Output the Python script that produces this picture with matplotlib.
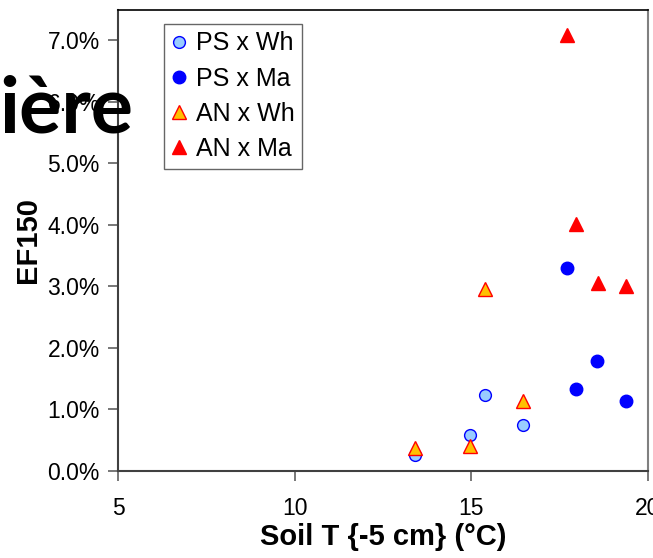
import matplotlib
matplotlib.use("Agg")
import matplotlib.pyplot as plt
from matplotlib.ticker import FuncFormatter

plt.rcParams['font.family'] = ['Liberation Sans', 'DejaVu Sans']

# ---------------------------------------------------------------------------
# Data
# ---------------------------------------------------------------------------
ps_wh_t = [13.4, 14.95, 15.4, 16.45]
ps_wh_ef = [0.0026, 0.0058, 0.0123, 0.0074]

ps_ma_t = [17.7, 17.95, 18.57, 19.38]
ps_ma_ef = [0.0330, 0.0134, 0.0179, 0.0113]

an_wh_t = [13.4, 14.95, 15.4, 16.45]
an_wh_ef = [0.0038, 0.0041, 0.0295, 0.0113]

an_ma_t = [17.7, 17.95, 18.58, 19.38]
an_ma_ef = [0.0708, 0.0401, 0.0306, 0.0301]

x_ticks = [5, 10, 15, 20]
y_ticks = [0.0, 0.01, 0.02, 0.03, 0.04, 0.05, 0.06, 0.07]

# ---------------------------------------------------------------------------
# Plot
# ---------------------------------------------------------------------------
fig = plt.figure(figsize=(6.53, 5.58), dpi=100)
ax = fig.add_axes([0.1807, 0.1559, 0.8116, 0.827])

ax.plot(ps_wh_t, ps_wh_ef, 'o', ms=8.5, mfc='#99CCFF', mec='#0000FF', mew=1.0,
        label='PS x Wh', zorder=3)
ax.plot(ps_ma_t, ps_ma_ef, 'o', ms=9, mfc='#0000FF', mec='#0000FF', mew=1.0,
        label='PS x Ma', zorder=3)
ax.plot(an_wh_t, an_wh_ef, '^', ms=9.5, mfc='#FFC000', mec='#FF0000', mew=1.0,
        label='AN x Wh', zorder=4)
ax.plot(an_ma_t, an_ma_ef, '^', ms=9.5, mfc='#FF0000', mec='#FF0000', mew=1.0,
        label='AN x Ma', zorder=4)

ax.set_xlim(5, 20)
ax.set_ylim(0, 0.075)
ax.set_xticks(x_ticks)
ax.set_yticks(y_ticks)
ax.yaxis.set_major_formatter(FuncFormatter(lambda v, p: f"{v * 100:.1f}%"))

ax.tick_params(axis='both', direction='out', length=7, width=1.2,
               color='#606060', labelsize=16.5, pad=6)
ax.tick_params(axis='x', pad=12)

for side in ['left', 'bottom']:
    ax.spines[side].set_color('#404040')
    ax.spines[side].set_linewidth(1.5)
ax.spines['top'].set_color('black')
ax.spines['top'].set_linewidth(1.2)
ax.spines['right'].set_color('#808080')
ax.spines['right'].set_linewidth(1.5)

ax.set_xlabel('Soil T {-5 cm} (°C)', fontsize=21, fontweight='bold', labelpad=2)
ax.set_ylabel('EF150', fontsize=21, fontweight='bold', labelpad=4)

leg = ax.legend(loc='upper left', bbox_to_anchor=(0.086, 0.969), fontsize=18,
                frameon=True, fancybox=False, numpoints=1, handlelength=0.6,
                handletextpad=0.4, labelspacing=0.45, borderpad=0.3,
                borderaxespad=0)
leg.get_frame().set_edgecolor('#404040')
leg.get_frame().set_linewidth(1.0)

# leftover slide title bleeding into the picture
fig.text(0.204, 0.7634, 'ière', ha='right', va='baseline', fontsize=57,
         fontweight='bold', family=['Lato', 'DejaVu Sans'], color='black')

fig.savefig('out.png', dpi=100)
